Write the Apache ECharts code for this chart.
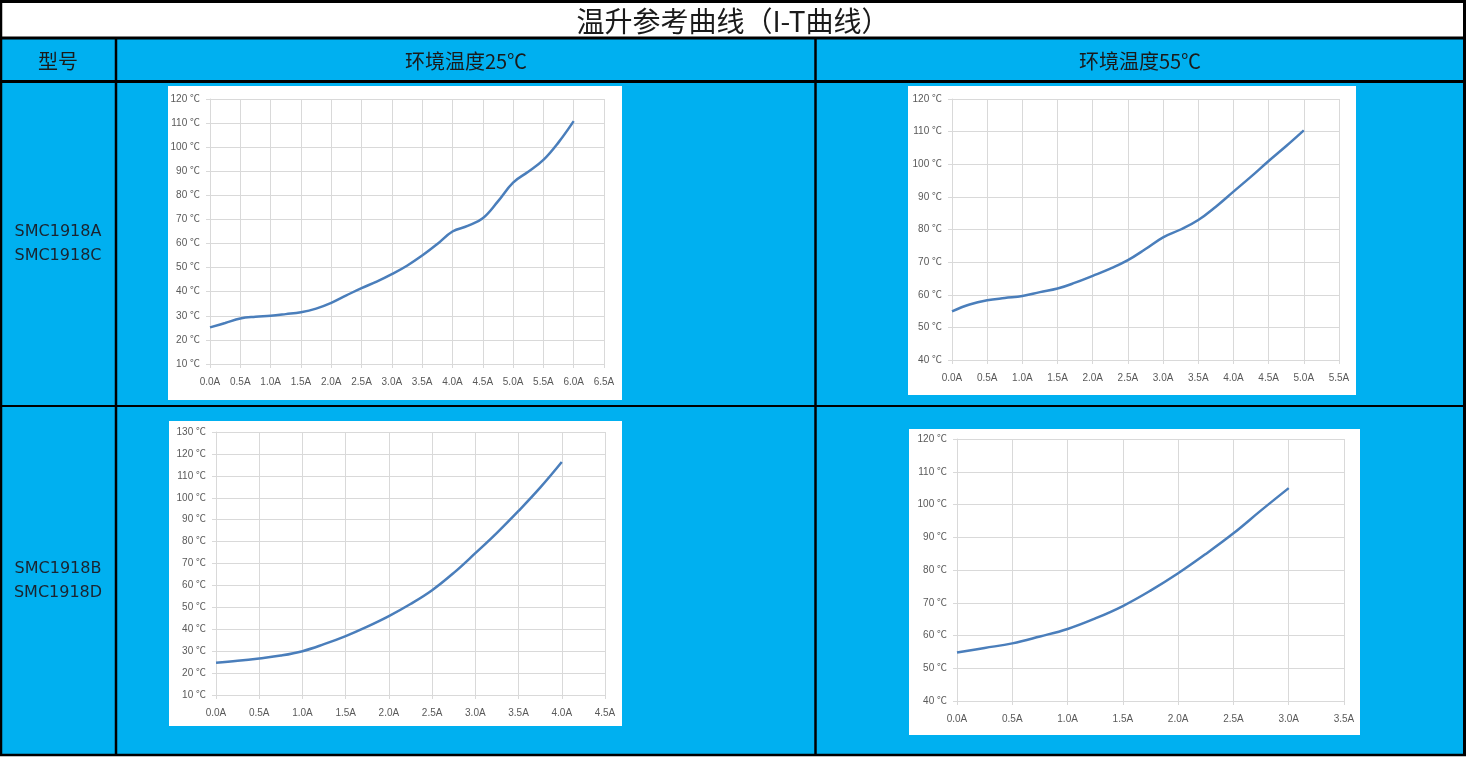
<!DOCTYPE html>
<html>
<head>
<meta charset="utf-8">
<script src="https://cdn.jsdelivr.net/npm/echarts@6/dist/echarts.min.js"></script>
<style>
html,body{margin:0;padding:0;background:#fff;}
#c{width:1469px;height:761px;}
</style>
</head>
<body>
<div id="c"></div>
<script>
// ---- Data ----
var titleText = '温升参考曲线（I-T曲线）';
var headerModel = '型号';
var header25 = '环境温度25℃';
var header55 = '环境温度55℃';
var modelsRow1 = ['SMC1918A', 'SMC1918C'];
var modelsRow2 = ['SMC1918B', 'SMC1918D'];

// Chart 1: SMC1918A/C, 25℃
var currentsA25 = [0, 0.25, 0.5, 0.75, 1.0, 1.25, 1.5, 1.75, 2.0, 2.25, 2.5, 2.75, 3.0, 3.25, 3.5, 3.75, 4.0, 4.25, 4.5, 4.75, 5.0, 5.25, 5.5, 5.75, 6.0];
var tempsA25    = [25.2, 27, 28.9, 29.6, 30, 30.7, 31.5, 33, 35.4, 38.5, 41.5, 44.2, 47.3, 50.8, 55, 59.8, 65, 67.3, 70.5, 77.5, 85.3, 89.8, 94.7, 102, 110.8];

// Chart 2: SMC1918A/C, 55℃
var currentsA55 = [0, 0.25, 0.5, 0.75, 1.0, 1.25, 1.5, 1.75, 2.0, 2.25, 2.5, 2.75, 3.0, 3.25, 3.5, 3.75, 4.0, 4.25, 4.5, 4.75, 5.0];
var tempsA55    = [54.9, 57, 58.3, 59, 59.6, 60.8, 61.9, 63.7, 65.8, 68, 70.6, 74, 77.6, 80, 82.9, 87, 91.6, 96.2, 101, 105.6, 110.4];

// Chart 3: SMC1918B/D, 25℃
var currentsB25 = [0, 0.25, 0.5, 0.75, 1.0, 1.25, 1.5, 1.75, 2.0, 2.25, 2.5, 2.75, 3.0, 3.25, 3.5, 3.75, 4.0];
var tempsB25    = [24.7, 25.6, 26.7, 28, 30, 33.2, 36.9, 41.2, 46, 51.5, 57.8, 65.7, 74.7, 84, 94, 104.6, 116.3];

// Chart 4: SMC1918B/D, 55℃
var currentsB55 = [0, 0.25, 0.5, 0.75, 1.0, 1.25, 1.5, 1.75, 2.0, 2.25, 2.5, 2.75, 3.0];
var tempsB55    = [54.8, 56.2, 57.6, 59.7, 62, 65.2, 69, 73.7, 79, 84.9, 91.2, 98.2, 105];

// Axis ranges (ticks)
var xMaxList = [6.5, 5.5, 4.5, 3.5];
var yMinList = [10, 40, 10, 40];
var yMaxList = [120, 120, 130, 120];

// ---- Build ----
function pairs(xs, ys) { return xs.map(function (x, i) { return [x, ys[i]]; }); }
var seriesData = [pairs(currentsA25, tempsA25), pairs(currentsA55, tempsA55), pairs(currentsB25, tempsB25), pairs(currentsB55, tempsB55)];

var grids = [
  {left: 210, top: 99, width: 394, height: 265},
  {left: 952, top: 99, width: 387, height: 261},
  {left: 216, top: 432, width: 389, height: 263},
  {left: 957, top: 439, width: 387, height: 262}
];
var whiteBoxes = [
  {x: 168, y: 86, width: 454, height: 314},
  {x: 908, y: 86, width: 448, height: 309},
  {x: 169, y: 421, width: 453, height: 305},
  {x: 909, y: 429, width: 451, height: 306}
];

var gridColor = '#d9d9d9';
var labelColor = '#595959';
var lblFont = 'Liberation Sans, Noto Sans CJK SC, sans-serif';

var xAxes = [], yAxes = [], series = [];
for (var i = 0; i < 4; i++) {
  xAxes.push({
    type: 'value', gridIndex: i, min: 0, max: xMaxList[i], interval: 0.5,
    axisLine: {show: true, lineStyle: {color: gridColor, width: 1}},
    axisTick: {show: true, length: 4, lineStyle: {color: gridColor}},
    splitLine: {show: true, lineStyle: {color: gridColor, width: 1}},
    axisLabel: {color: labelColor, fontSize: 10, fontFamily: lblFont, margin: 13,
      formatter: function (v) { return v.toFixed(1) + 'A'; }}
  });
  yAxes.push({
    type: 'value', gridIndex: i, min: yMinList[i], max: yMaxList[i], interval: 10,
    axisLine: {show: true, lineStyle: {color: gridColor, width: 1}},
    axisTick: {show: true, length: 4, lineStyle: {color: gridColor}},
    splitLine: {show: true, lineStyle: {color: gridColor, width: 1}},
    axisLabel: {color: labelColor, fontSize: 10, fontFamily: lblFont, margin: 10,
      formatter: function (v) { return v + ' ℃'; }}
  });
  series.push({
    type: 'line', xAxisIndex: i, yAxisIndex: i, data: seriesData[i],
    smooth: 0.4, showSymbol: false, symbol: 'none',
    lineStyle: {color: '#4a7ebb', width: 2.5}, z: 5
  });
}

var blue = '#00b0f0';
var black = '#000';
var graphics = [];
graphics.push({type: 'rect', shape: {x: 2, y: 38, width: 1463, height: 717}, style: {fill: blue}, z: -20});
graphics.push({type: 'rect', shape: {x: 2, y: 2, width: 1463, height: 36}, style: {fill: '#fff'}, z: -20});
whiteBoxes.forEach(function (b) {
  graphics.push({type: 'rect', shape: b, style: {fill: '#fff'}, z: -15});
});
function hline(y, x1, x2, w) { graphics.push({type: 'line', shape: {x1: x1, y1: y, x2: x2, y2: y}, style: {stroke: black, lineWidth: w}, z: 10}); }
function vline(x, y1, y2, w) { graphics.push({type: 'line', shape: {x1: x, y1: y1, x2: x, y2: y2}, style: {stroke: black, lineWidth: w}, z: 10}); }
hline(1.5, 0, 1466, 3);
hline(38, 0, 1466, 3);
hline(81.5, 0, 1466, 3);
hline(406, 0, 1466, 2);
hline(755, 0, 1466, 2.5);
vline(1, 0, 756, 2.5);
vline(1464.5, 0, 756, 3);
vline(116, 38, 756, 2.5);
vline(815.5, 38, 756, 2.5);

var cjk = 'Noto Sans CJK SC, sans-serif';
function txt(s, x, y, size, font, color) {
  graphics.push({type: 'text', x: x, y: y, z: 12,
    style: {text: s, fontSize: size, fontFamily: font, fill: color || '#1a1a1a', textAlign: 'center', textVerticalAlign: 'middle'}});
}
txt(titleText, 733, 21, 28, cjk, '#1a1a1a');
txt(headerModel, 58, 61, 20, cjk);
txt(header25, 466, 61, 20, cjk);
txt(header55, 1140, 61, 20, cjk);
var mFont = 'DejaVu Sans, sans-serif';
txt(modelsRow1[0], 58, 232, 16, mFont, '#1a2430');
txt(modelsRow1[1], 58, 256, 16, mFont, '#1a2430');
txt(modelsRow2[0], 58, 569, 16, mFont, '#1a2430');
txt(modelsRow2[1], 58, 593, 16, mFont, '#1a2430');

var chart = echarts.init(document.getElementById('c'));
chart.setOption({
  animation: false,
  backgroundColor: '#fff',
  grid: grids,
  xAxis: xAxes,
  yAxis: yAxes,
  series: series,
  graphic: graphics
});
</script>
</body>
</html>
